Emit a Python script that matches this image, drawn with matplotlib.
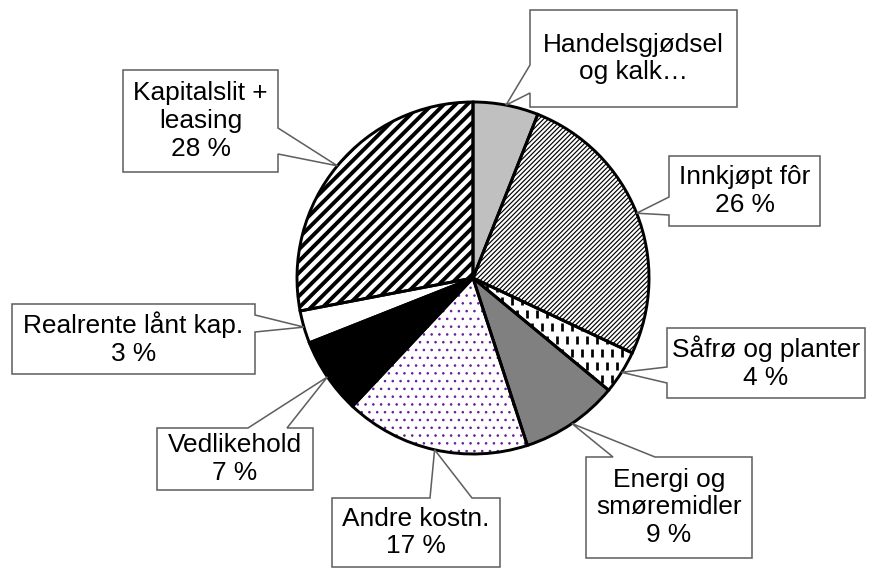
# coding: utf-8
# Kostnadsfordeling - kakediagram med skravur og utropsbokser

import numpy as np
import matplotlib.pyplot as plt
from matplotlib.patches import Wedge, Polygon
from matplotlib.collections import LineCollection

plt.rcParams['font.family'] = ['Liberation Sans', 'DejaVu Sans']

# Data (andel av kostnader, %), med klokka fra toppen
categories = ["Handelsgjødsel\nog kalk…", "Innkjøpt fôr", "Såfrø og planter",
              "Energi og\nsmøremidler", "Andre kostn.", "Vedlikehold",
              "Realrente lånt kap.", "Kapitalslit +\nleasing"]
shares = [6, 26, 4, 9, 17, 7, 3, 28]
truncated = [True, False, False, False, False, False, False, False]

# Stil per sektor
fills = ['#C0C0C0', 'white', 'white', '#808080', 'white', 'black', 'white', 'white']
hatches = [None, '//////////', None, None, '...', None, None, '////']
hatch_colors = ['black', 'black', 'black', 'black', '#6A1B9A', 'black', 'black', 'black']
hatch_widths = [1.0, 0.6, 1.0, 1.0, 0.5, 1.0, 1.0, 2.0]

# Plassering av utropsbokser i piksler: (venstre, topp, høyre, bunn), side, basis
callouts = [
    ((530, 10, 737, 107), 'left', (65, 93)),
    ((669, 156, 820, 226), 'left', (197, 215)),
    ((667, 328, 865, 398), 'left', (367, 383)),
    ((586, 457, 752, 558), 'top', (613, 655)),
    ((332, 498, 500, 567), 'top', (430, 472)),
    ((157, 428, 313, 490), 'top', (248, 287)),
    ((12, 304, 255, 374), 'right', (315, 332)),
    ((123, 70, 278, 172), 'right', (128, 154)),
]

W, H = 870, 568
DPI = 140
center = (473, 278)
radius = 176
box_edge = '#5f5f5f'

fig = plt.figure(figsize=(W / DPI, H / DPI), dpi=DPI)
ax = fig.add_axes([0, 0, 1, 1])

wedges, _ = ax.pie(shares, center=center, radius=radius, startangle=-90,
                   counterclock=True, colors=fills,
                   wedgeprops=dict(linewidth=0, edgecolor='none'))
ax.set_xlim(0, W)
ax.set_ylim(H, 0)
ax.set_aspect('equal')
ax.axis('off')

for i, w in enumerate(wedges):
    t1, t2 = w.theta1, w.theta2
    if hatches[i]:
        hp = Wedge(center, radius, t1, t2, facecolor='none',
                   edgecolor=hatch_colors[i], linewidth=0, hatch=hatches[i], zorder=2)
        if hasattr(hp, 'set_hatch_linewidth'):
            hp.set_hatch_linewidth(hatch_widths[i])
        ax.add_patch(hp)
    outline = Wedge(center, radius, t1, t2, fill=False, edgecolor='black',
                    linewidth=1.5, zorder=4)
    ax.add_patch(outline)

# Såfrø: korte loddrette streker
w = wedges[2]
segs = []
xs = np.arange(center[0] - radius, center[0] + radius, 10)
ys = np.arange(center[1] - radius, center[1] + radius, 13)
for j, y in enumerate(ys):
    off = 5 if j % 2 else 0
    for x in xs:
        segs.append([(x + off, y), (x + off, y + 8)])
lc = LineCollection(segs, colors='black', linewidths=1.4, zorder=2)
lc.set_clip_path(w)
ax.add_collection(lc)


def callout_poly(box, side, base, tip):
    L, T, R, B = box
    a, b = sorted(base)
    if side == 'top':
        pts = [(L, T), (a, T), tip, (b, T), (R, T), (R, B), (L, B)]
    elif side == 'right':
        pts = [(L, T), (R, T), (R, a), tip, (R, b), (R, B), (L, B)]
    elif side == 'bottom':
        pts = [(L, T), (R, T), (R, B), (b, B), tip, (a, B), (L, B)]
    else:
        pts = [(L, T), (R, T), (R, B), (L, B), (L, b), tip, (L, a)]
    return pts


for i, w in enumerate(wedges):
    mid = np.deg2rad((w.theta1 + w.theta2) / 2)
    tip = (center[0] + radius * np.cos(mid), center[1] + radius * np.sin(mid))
    box, side, base = callouts[i]
    poly = Polygon(callout_poly(box, side, base, tip), closed=True,
                   facecolor='white', edgecolor=box_edge, linewidth=0.8,
                   joinstyle='miter', zorder=5)
    ax.add_patch(poly)
    txt = categories[i] if truncated[i] else f"{categories[i]}\n{shares[i]} %"
    ax.text((box[0] + box[2]) / 2, (box[1] + box[3]) / 2, txt,
            ha='center', va='center', fontsize=13.5, linespacing=1.2,
            color='black', zorder=6)

fig.savefig('out.png', dpi=DPI)
